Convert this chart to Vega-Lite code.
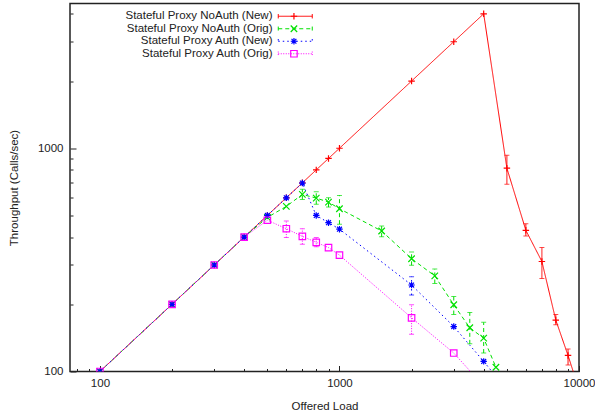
{
  "$schema": "https://vega.github.io/schema/vega-lite/v6.json",
  "width": 509,
  "height": 368,
  "autosize": {"type": "none"},
  "padding": {"left": 70, "top": 3.5, "right": 16, "bottom": 41.5},
  "background": "white",
  "config": {
    "font": "Liberation Sans",
    "view": {"stroke": "#222", "strokeWidth": 1.5},
    "axis": {
      "domain": false,
      "grid": false,
      "labelFont": "Liberation Sans",
      "labelFontSize": 11.5,
      "labelColor": "#222",
      "titleFont": "Liberation Sans",
      "titleFontSize": 11.5,
      "titleFontWeight": "normal",
      "titleColor": "#222",
      "tickColor": "#222",
      "tickWidth": 1,
      "labelOverlap": false,
      "labelFlush": false,
      "labelBound": false
    }
  },
  "data": {
    "values": [
      {"series": "Stateful Proxy NoAuth (New)", "load": 100, "tput": 100},
      {"series": "Stateful Proxy NoAuth (New)", "load": 200, "tput": 200},
      {"series": "Stateful Proxy NoAuth (New)", "load": 300, "tput": 300},
      {"series": "Stateful Proxy NoAuth (New)", "load": 400, "tput": 400},
      {"series": "Stateful Proxy NoAuth (New)", "load": 500, "tput": 500},
      {"series": "Stateful Proxy NoAuth (New)", "load": 600, "tput": 600},
      {"series": "Stateful Proxy NoAuth (New)", "load": 700, "tput": 700},
      {"series": "Stateful Proxy NoAuth (New)", "load": 800, "tput": 800},
      {"series": "Stateful Proxy NoAuth (New)", "load": 900, "tput": 900},
      {"series": "Stateful Proxy NoAuth (New)", "load": 1000, "tput": 1000},
      {"series": "Stateful Proxy NoAuth (New)", "load": 2000, "tput": 2000},
      {"series": "Stateful Proxy NoAuth (New)", "load": 3000, "tput": 3000},
      {"series": "Stateful Proxy NoAuth (New)", "load": 4000, "tput": 4000},
      {"series": "Stateful Proxy NoAuth (New)", "load": 5000, "tput": 814, "lo": 690, "hi": 930},
      {"series": "Stateful Proxy NoAuth (New)", "load": 6000, "tput": 429, "lo": 405, "hi": 459},
      {"series": "Stateful Proxy NoAuth (New)", "load": 7000, "tput": 311, "lo": 261, "hi": 359},
      {"series": "Stateful Proxy NoAuth (New)", "load": 8000, "tput": 170, "lo": 162, "hi": 180},
      {"series": "Stateful Proxy NoAuth (New)", "load": 9000, "tput": 118, "lo": 107, "hi": 126},
      {"series": "Stateful Proxy NoAuth (New)", "load": 10000, "tput": 83},

      {"series": "Stateful Proxy NoAuth (Orig)", "load": 100, "tput": 100},
      {"series": "Stateful Proxy NoAuth (Orig)", "load": 200, "tput": 200},
      {"series": "Stateful Proxy NoAuth (Orig)", "load": 300, "tput": 300},
      {"series": "Stateful Proxy NoAuth (Orig)", "load": 400, "tput": 400},
      {"series": "Stateful Proxy NoAuth (Orig)", "load": 500, "tput": 490},
      {"series": "Stateful Proxy NoAuth (Orig)", "load": 600, "tput": 549},
      {"series": "Stateful Proxy NoAuth (Orig)", "load": 700, "tput": 621, "lo": 590, "hi": 655},
      {"series": "Stateful Proxy NoAuth (Orig)", "load": 800, "tput": 598, "lo": 561, "hi": 638},
      {"series": "Stateful Proxy NoAuth (Orig)", "load": 900, "tput": 574, "lo": 545, "hi": 600},
      {"series": "Stateful Proxy NoAuth (Orig)", "load": 1000, "tput": 536, "lo": 457, "hi": 615},
      {"series": "Stateful Proxy NoAuth (Orig)", "load": 1500, "tput": 426, "lo": 401, "hi": 448},
      {"series": "Stateful Proxy NoAuth (Orig)", "load": 2000, "tput": 320, "lo": 299, "hi": 343},
      {"series": "Stateful Proxy NoAuth (Orig)", "load": 2500, "tput": 268, "lo": 248, "hi": 288},
      {"series": "Stateful Proxy NoAuth (Orig)", "load": 3000, "tput": 199, "lo": 180, "hi": 217},
      {"series": "Stateful Proxy NoAuth (Orig)", "load": 3500, "tput": 157, "lo": 133, "hi": 184},
      {"series": "Stateful Proxy NoAuth (Orig)", "load": 4000, "tput": 141, "lo": 121, "hi": 166},
      {"series": "Stateful Proxy NoAuth (Orig)", "load": 4500, "tput": 104.5},

      {"series": "Stateful Proxy Auth (New)", "load": 100, "tput": 100},
      {"series": "Stateful Proxy Auth (New)", "load": 200, "tput": 200},
      {"series": "Stateful Proxy Auth (New)", "load": 300, "tput": 300},
      {"series": "Stateful Proxy Auth (New)", "load": 400, "tput": 400},
      {"series": "Stateful Proxy Auth (New)", "load": 500, "tput": 500},
      {"series": "Stateful Proxy Auth (New)", "load": 600, "tput": 600},
      {"series": "Stateful Proxy Auth (New)", "load": 700, "tput": 698},
      {"series": "Stateful Proxy Auth (New)", "load": 800, "tput": 500},
      {"series": "Stateful Proxy Auth (New)", "load": 900, "tput": 464},
      {"series": "Stateful Proxy Auth (New)", "load": 1000, "tput": 434},
      {"series": "Stateful Proxy Auth (New)", "load": 2000, "tput": 244, "lo": 220, "hi": 266},
      {"series": "Stateful Proxy Auth (New)", "load": 3000, "tput": 159},
      {"series": "Stateful Proxy Auth (New)", "load": 4000, "tput": 111},
      {"series": "Stateful Proxy Auth (New)", "load": 4500, "tput": 95},

      {"series": "Stateful Proxy Auth (Orig)", "load": 100, "tput": 100},
      {"series": "Stateful Proxy Auth (Orig)", "load": 200, "tput": 200},
      {"series": "Stateful Proxy Auth (Orig)", "load": 300, "tput": 300},
      {"series": "Stateful Proxy Auth (Orig)", "load": 400, "tput": 400},
      {"series": "Stateful Proxy Auth (Orig)", "load": 500, "tput": 476},
      {"series": "Stateful Proxy Auth (Orig)", "load": 600, "tput": 436, "lo": 398, "hi": 472},
      {"series": "Stateful Proxy Auth (Orig)", "load": 700, "tput": 403, "lo": 372, "hi": 436},
      {"series": "Stateful Proxy Auth (Orig)", "load": 800, "tput": 379, "lo": 362, "hi": 398},
      {"series": "Stateful Proxy Auth (Orig)", "load": 900, "tput": 359},
      {"series": "Stateful Proxy Auth (Orig)", "load": 1000, "tput": 332},
      {"series": "Stateful Proxy Auth (Orig)", "load": 2000, "tput": 174, "lo": 147, "hi": 199},
      {"series": "Stateful Proxy Auth (Orig)", "load": 3000, "tput": 121},
      {"series": "Stateful Proxy Auth (Orig)", "load": 4000, "tput": 86}
    ]
  },
  "encoding": {
    "x": {
      "field": "load",
      "type": "quantitative",
      "scale": {"type": "log", "domain": [75, 10000], "nice": false},
      "axis": {
        "title": "Offered Load",
        "values": [80, 90, 100, 200, 300, 400, 500, 600, 700, 800, 900, 1000, 2000, 3000, 4000, 5000, 6000, 7000, 8000, 9000, 10000],
        "labelExpr": "indexof([100, 1000, 10000], datum.value) >= 0 ? format(datum.value, 'd') : ''",
        "tickSize": {"condition": {"test": "indexof([100, 1000, 10000], datum.value) >= 0", "value": -6}, "value": -3},
        "labelPadding": 11.5,
        "titlePadding": 9
      }
    }
  },
  "layer": [
    {
      "mark": {"type": "line", "strokeWidth": 1, "clip": true},
      "encoding": {
        "y": {
          "field": "tput",
          "type": "quantitative",
          "scale": {"type": "log", "domain": [100, 4450], "nice": false},
          "axis": {
            "title": "Throughput (Calls/sec)",
            "values": [100, 200, 300, 400, 500, 600, 700, 800, 900, 1000, 2000, 3000, 4000],
            "labelExpr": "indexof([100, 1000], datum.value) >= 0 ? format(datum.value, 'd') : ''",
            "tickSize": {"condition": {"test": "indexof([100, 1000], datum.value) >= 0", "value": -6}, "value": -3},
            "labelPadding": 13,
            "titlePadding": 18
          }
        },
        "color": {
          "field": "series",
          "type": "nominal",
          "scale": {
            "domain": ["Stateful Proxy NoAuth (New)", "Stateful Proxy NoAuth (Orig)", "Stateful Proxy Auth (New)", "Stateful Proxy Auth (Orig)"],
            "range": ["#ff0000", "#00e000", "#0000ff", "#ff00ff"]
          },
          "legend": {
            "orient": "none",
            "legendX": 219.5,
            "legendY": 7,
            "title": null,
            "symbolType": "M-8.5,0H8.5M-8.5,-1.1V1.1M8.5,-1.1V1.1",
            "symbolSize": 16,
            "symbolStrokeWidth": 1,
            "symbolFillColor": "transparent",
            "symbolOpacity": 1,
            "labelAlign": "right",
            "labelOffset": -28.5,
            "labelFont": "Liberation Sans",
            "labelFontSize": 11.5,
            "labelColor": "#222",
            "labelLimit": 300,
            "rowPadding": -0.5
          }
        },
        "strokeDash": {
          "field": "series",
          "type": "nominal",
          "scale": {
            "domain": ["Stateful Proxy NoAuth (New)", "Stateful Proxy NoAuth (Orig)", "Stateful Proxy Auth (New)", "Stateful Proxy Auth (Orig)"],
            "range": [[1, 0], [4, 3], [1.5, 3], [1, 1.5]]
          }
        }
      }
    },
    {
      "transform": [{"filter": "isValid(datum.lo)"}],
      "mark": {"type": "rule", "strokeWidth": 1, "clip": true},
      "encoding": {
        "y": {"field": "lo", "type": "quantitative", "title": "Throughput (Calls/sec)"},
        "y2": {"field": "hi"},
        "color": {"field": "series", "type": "nominal", "legend": null},
        "strokeDash": {"field": "series", "type": "nominal", "legend": null}
      }
    },
    {
      "transform": [{"filter": "isValid(datum.lo)"}],
      "mark": {"type": "tick", "orient": "horizontal", "size": 5, "thickness": 1, "clip": true},
      "encoding": {
        "y": {"field": "lo", "type": "quantitative", "title": "Throughput (Calls/sec)"},
        "color": {"field": "series", "type": "nominal", "legend": null}
      }
    },
    {
      "transform": [{"filter": "isValid(datum.hi)"}],
      "mark": {"type": "tick", "orient": "horizontal", "size": 5, "thickness": 1, "clip": true},
      "encoding": {
        "y": {"field": "hi", "type": "quantitative", "title": "Throughput (Calls/sec)"},
        "color": {"field": "series", "type": "nominal", "legend": null}
      }
    },
    {
      "mark": {"type": "point", "filled": false, "strokeWidth": 1.2, "opacity": 1, "size": 42, "clip": true},
      "encoding": {
        "y": {"field": "tput", "type": "quantitative", "title": "Throughput (Calls/sec)"},
        "stroke": {
          "field": "series",
          "type": "nominal",
          "scale": {
            "range": ["#0000ff", "#ff00ff", "#ff0000", "#00e000"]
          },
          "legend": {
            "orient": "none",
            "legendX": 218.2,
            "legendY": 7,
            "title": null,
            "values": ["Stateful Proxy NoAuth (New)", "Stateful Proxy NoAuth (Orig)", "Stateful Proxy Auth (New)", "Stateful Proxy Auth (Orig)"],
            "symbolSize": 42,
            "symbolStrokeWidth": 1.2,
            "symbolFillColor": "transparent",
            "symbolOpacity": 1,
            "labelOpacity": 0,
            "labelFontSize": 11.5,
            "labelFont": "Liberation Sans",
            "rowPadding": -0.5
          }
        },
        "shape": {
          "field": "series",
          "type": "nominal",
          "scale": {
            "range": [
              "M-1,0H1M0,-1V1M-0.75,-0.75L0.75,0.75M-0.75,0.75L0.75,-0.75",
              "M-1,-1H1V1H-1Z",
              "M-1,0H1M0,-1V1",
              "M-1,-1L1,1M-1,1L1,-1"
            ]
          },
          "legend": {
            "orient": "none",
            "legendX": 218.2,
            "legendY": 7,
            "title": null,
            "values": ["Stateful Proxy NoAuth (New)", "Stateful Proxy NoAuth (Orig)", "Stateful Proxy Auth (New)", "Stateful Proxy Auth (Orig)"],
            "symbolSize": 42,
            "symbolStrokeWidth": 1.2,
            "symbolFillColor": "transparent",
            "symbolOpacity": 1,
            "labelOpacity": 0,
            "labelFontSize": 11.5,
            "labelFont": "Liberation Sans",
            "rowPadding": -0.5
          }
        }
      }
    }
  ]
}
